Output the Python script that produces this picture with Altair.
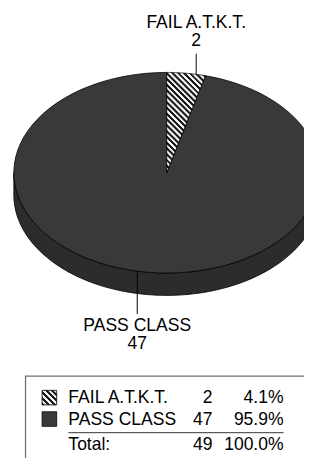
import math
import altair as alt
import pandas as pd

# ---- data ----
categories = ["FAIL A.T.K.T.", "PASS CLASS"]
counts = [2, 47]
total_label = "Total:"

# ---- layout / style constants (page pixels) ----
CX, CY, RX, RY, DEPTH = 171, 171, 157, 103, 23
N = 90
LEAD = 21
FONT = "Liberation Sans"
FS = 18
TOP_FILL = "#393939"
SIDE_FILL = "#2c2c2c"
EDGE = "#000000"
W, H = 304, 456

# legend layout
BOX_X, BOX_Y = 26, 380
SW_X0, SW_X1, SW_H = 43, 58, 15
COL_LABEL, COL_COUNT, COL_PCT = 70, 218, 291
ROW0, ROWH, TOTAL_Y, SEP_Y = 402, 22, 450, 438

df = pd.DataFrame({"category": categories, "count": counts, "idx": list(range(len(categories)))})
one = pd.DataFrame({"d": [0]})

xs = alt.Scale(domain=[8, 8 + W], nice=False, zero=False)
ys = alt.Scale(domain=[8, 8 + H], nice=False, zero=False, reverse=True)


def X(field=None, datum=None):
    if datum is not None:
        return alt.X(datum=datum, type="quantitative", scale=xs, axis=None)
    return alt.X(field, type="quantitative", scale=xs, axis=None)


def Y(field=None, datum=None):
    if datum is not None:
        return alt.Y(datum=datum, type="quantitative", scale=ys, axis=None)
    return alt.Y(field, type="quantitative", scale=ys, axis=None)


def hatch(x1, y1, x2, y2, n):
    stops = []
    for i in range(n):
        o = i / n
        d = 1 / n
        seq = [
            (o, "#1c1c1c"), (o + 0.4 * d, "#1c1c1c"),
            (o + 0.4 * d, "#8a8a8a"), (o + 0.5 * d, "#8a8a8a"),
            (o + 0.5 * d, "#f2f2f2"), (o + 0.9 * d, "#f2f2f2"),
            (o + 0.9 * d, "#8a8a8a"), (o + d, "#8a8a8a"),
        ]
        for off, col in seq:
            stops.append(alt.GradientStop(offset=round(min(off, 1.0), 5), color=col))
    return alt.LinearGradient(gradient="linear", stops=stops, x1=x1, y1=y1, x2=x2, y2=y2)


# gradient geometry for the small slice (bbox ratio), 45-degree stripes covering whole bbox
a_end = 2 * math.pi * counts[0] / sum(counts)
w_box = RX * math.sin(min(a_end, math.pi / 2))
r = w_box / RY
s = (r + 1) / (r * r + 1)
span = (w_box + RY) / math.sqrt(2)
slice_hatch = hatch(0, 1, round(s * r, 4), round(1 - s, 4), max(4, int(round(span / 4.2))))
swatch_hatch = hatch(0, 1, 1, 0, 5)

fills_top = {categories[0]: slice_hatch, categories[1]: TOP_FILL}
fills_side = {categories[0]: slice_hatch, categories[1]: SIDE_FILL}


def angles(ch):
    return (
        ch.transform_window(cum="sum(count)", sort=[alt.SortField("idx")], frame=[None, 0])
        .transform_joinaggregate(total="sum(count)")
        .transform_calculate(a0="2*PI*(datum.cum - datum.count)/datum.total")
        .transform_calculate(a1="2*PI*datum.cum/datum.total")
    )


layers = []

# side faces
for cat in categories:
    c = (
        angles(alt.Chart(df))
        .transform_filter(alt.datum.category == cat)
        .transform_calculate(b0="max(datum.a0, PI/2)")
        .transform_calculate(b1="min(datum.a1, 3*PI/2)")
        .transform_filter("datum.b1 > datum.b0")
        .transform_calculate(k=f"sequence(0, {2 * N + 3})")
        .transform_flatten(["k"])
        .transform_calculate(
            t=f"datum.k <= {N} ? datum.b0 + (datum.b1 - datum.b0) * datum.k / {N} : "
              f"(datum.k <= {2 * N + 1} ? datum.b1 - (datum.b1 - datum.b0) * (datum.k - {N + 1}) / {N} : datum.b0)"
        )
        .transform_calculate(dep=f"datum.k > {N} && datum.k <= {2 * N + 1} ? {DEPTH} : 0")
        .transform_calculate(px=f"{CX} + {RX} * sin(datum.t)")
        .transform_calculate(py=f"{CY} - {RY} * cos(datum.t) + datum.dep")
        .mark_line(fill=fills_side[cat], stroke=EDGE, strokeWidth=0.8, strokeJoin="round", clip=True)
        .encode(x=X("px"), y=Y("py"), order="k:Q", detail="category:N")
    )
    layers.append(c)

# top faces (big slice first, small hatched slice on top)
for cat in [categories[1], categories[0]]:
    c = (
        angles(alt.Chart(df))
        .transform_filter(alt.datum.category == cat)
        .transform_calculate(k=f"sequence(0, {N + 3})")
        .transform_flatten(["k"])
        .transform_calculate(t=f"datum.a0 + (datum.a1 - datum.a0) * clamp(datum.k - 1, 0, {N}) / {N}")
        .transform_calculate(edge=f"datum.k == 0 || datum.k == {N + 2} ? 0 : 1")
        .transform_calculate(px=f"{CX} + datum.edge * {RX} * sin(datum.t)")
        .transform_calculate(py=f"{CY} - datum.edge * {RY} * cos(datum.t)")
        .mark_line(fill=fills_top[cat], stroke=EDGE, strokeWidth=0.8, strokeJoin="round", clip=True)
        .encode(x=X("px"), y=Y("py"), order="k:Q", detail="category:N")
    )
    layers.append(c)

# labels with leader lines
lab = (
    angles(alt.Chart(df))
    .transform_calculate(mid="(datum.a0 + datum.a1) / 2")
    .transform_calculate(tl=f"atan2({RX} * sin(datum.mid), {RY} * cos(datum.mid))")
    .transform_calculate(lx=f"{CX} + {RX} * sin(datum.tl)")
    .transform_calculate(ey=f"{CY} - {RY} * cos(datum.tl)")
    .transform_calculate(front="cos(datum.tl) < 0 ? 1 : 0")
    .transform_calculate(oy=f"datum.front ? datum.ey + {DEPTH} + {LEAD} : datum.ey - {LEAD}")
    .transform_calculate(cat_y="datum.front ? datum.oy + 12 : datum.oy - 32")
    .transform_calculate(cnt_y="datum.front ? datum.oy + 31 : datum.oy - 13")
)
layers.append(lab.mark_rule(color=EDGE, strokeWidth=1).encode(x=X("lx"), y=Y("ey"), y2="oy:Q"))
layers.append(
    lab.mark_text(font=FONT, fontSize=FS, align="center", baseline="middle", color="#000")
    .encode(x=X("lx"), y=Y("cat_y"), text="category:N")
)
layers.append(
    lab.mark_text(font=FONT, fontSize=FS, align="center", baseline="middle", color="#000")
    .encode(x=X("lx"), y=Y("cnt_y"), text="count:Q")
)

# legend box
layers.append(
    alt.Chart(one)
    .mark_rect(fill="white", fillOpacity=0, stroke="#707070", strokeWidth=1.3, clip=True)
    .encode(x=X(datum=BOX_X), x2=alt.X2(datum=8 + W + 30), y=Y(datum=BOX_Y), y2=alt.Y2(datum=8 + H + 30))
)

leg = (
    alt.Chart(df)
    .transform_joinaggregate(total="sum(count)")
    .transform_calculate(rowy=f"{ROW0} + datum.idx * {ROWH}")
    .transform_calculate(sy0=f"datum.rowy - {SW_H / 2}")
    .transform_calculate(sy1=f"datum.rowy + {SW_H / 2}")
    .transform_calculate(pct="format(100 * datum.count / datum.total, '.1f') + '%'")
)
for cat, fill in [(categories[0], swatch_hatch), (categories[1], TOP_FILL)]:
    layers.append(
        leg.transform_filter(alt.datum.category == cat)
        .mark_rect(fill=fill, stroke=EDGE, strokeWidth=0.8)
        .encode(x=X(datum=SW_X0), x2=alt.X2(datum=SW_X1), y=Y("sy0"), y2="sy1:Q")
    )
txt = dict(font=FONT, fontSize=FS, baseline="middle", color="#000", dy=1)
layers.append(leg.mark_text(align="left", **txt).encode(x=X(datum=COL_LABEL), y=Y("rowy"), text="category:N"))
layers.append(leg.mark_text(align="right", **txt).encode(x=X(datum=COL_COUNT), y=Y("rowy"), text="count:Q"))
layers.append(leg.mark_text(align="right", **txt).encode(x=X(datum=COL_PCT), y=Y("rowy"), text="pct:N"))

# separator + total row
layers.append(
    alt.Chart(one).mark_rule(color="#333", strokeWidth=1)
    .encode(x=X(datum=COL_LABEL), x2=alt.X2(datum=COL_PCT), y=Y(datum=SEP_Y))
)
tot = (
    alt.Chart(df)
    .transform_aggregate(total="sum(count)")
    .transform_calculate(lbl=f"'{total_label}'")
    .transform_calculate(pct="format(100 * datum.total / datum.total, '.1f') + '%'")
)
layers.append(tot.mark_text(align="left", **txt).encode(x=X(datum=COL_LABEL), y=Y(datum=TOTAL_Y), text="lbl:N"))
layers.append(tot.mark_text(align="right", **txt).encode(x=X(datum=COL_COUNT), y=Y(datum=TOTAL_Y), text="total:Q"))
layers.append(tot.mark_text(align="right", **txt).encode(x=X(datum=COL_PCT), y=Y(datum=TOTAL_Y), text="pct:N"))

chart = (
    alt.layer(*layers)
    .properties(width=W, height=H, autosize=alt.AutoSizeParams(type="none"), padding=0, background="white")
    .configure_view(stroke=None)
)

chart.save("out.html", embed_options={"renderer": "svg", "actions": False})
